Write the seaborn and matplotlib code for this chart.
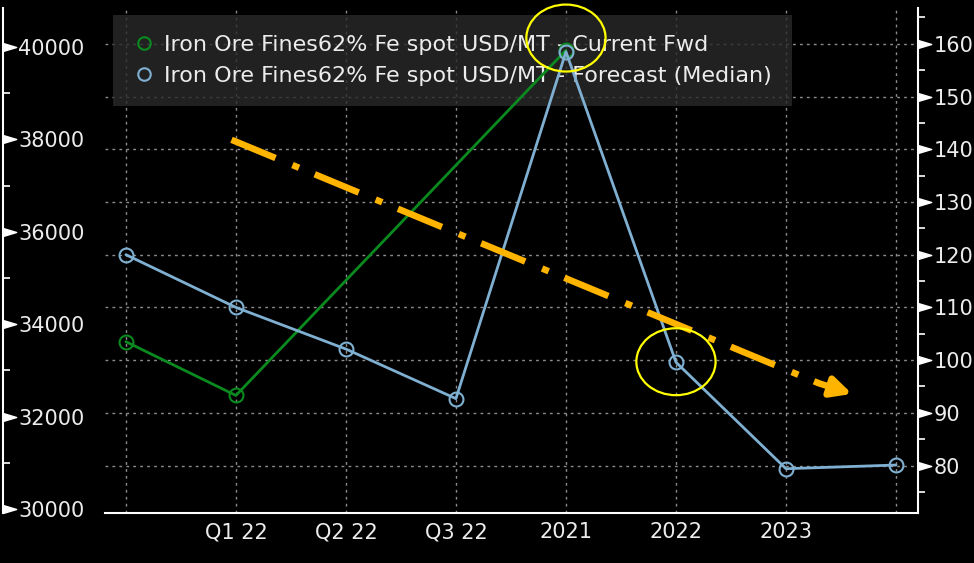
import matplotlib
matplotlib.use("Agg")
import matplotlib.pyplot as plt
import seaborn as sns
import pandas as pd
from matplotlib.path import Path
from matplotlib.patches import Ellipse
from matplotlib.lines import Line2D

# 資料
periods = ["", "Q1 22", "Q2 22", "Q3 22", "2021", "2022", "2023", ""]
current_fwd = [103.5, 93.3, None, None, 158.8, None, None, None]
forecast_median = [120.0, 110.0, 102.1, 92.7, 158.5, 99.6, 79.4, 80.1]
left_ticks = [30000, 32000, 34000, 36000, 38000, 40000]
right_ticks = [80, 90, 100, 110, 120, 130, 140, 150, 160]
series_names = ["Iron Ore Fines62% Fe spot USD/MT - Current Fwd",
                "Iron Ore Fines62% Fe spot USD/MT - Forecast (Median)"]

GREEN = "#0a8a1f"
BLUE = "#7fb0d2"
ORANGE = "#ffb400"
TXT = "#ececec"
GRID = "#8c8c8c"

sns.set_style("dark", {"axes.facecolor": "black", "figure.facecolor": "black"})
plt.rcParams["font.family"] = ["DejaVu Sans"]
plt.rcParams["font.size"] = 15

df = pd.DataFrame({"pos": range(len(periods)), "period": periods,
                   "fwd": current_fwd, "median": forecast_median})

fig = plt.figure(figsize=(9.74, 5.63), dpi=100)
ax = fig.add_axes([105 / 974, 50 / 563, 813 / 974, 505 / 563])
ax.set_facecolor("black")
ax_l = ax.twinx()

line_kw = dict(marker="o", markersize=10, markerfacecolor="none",
               markeredgewidth=1.5, linewidth=2)
sns.lineplot(data=df.dropna(subset=["fwd"]), x="pos", y="fwd", ax=ax,
             color=GREEN, markeredgecolor=GREEN, **line_kw)
sns.lineplot(data=df, x="pos", y="median", ax=ax,
             color=BLUE, markeredgecolor=BLUE, **line_kw)

ax.set_xlim(-0.19, 7.2)
ax.set_ylim(71.0, 166.8)
ax.set_xticks(df["pos"])
ax.set_xticklabels(periods, color=TXT)
ax.set_xlabel("")
ax.set_ylabel("")
ax.grid(True, color=GRID, linestyle=(0, (2, 3)), linewidth=1)

# 右軸 (三角形刻度)
tri = Path([(0, -0.3), (1, 0), (0, 0.3), (0, -0.3)],
           [Path.MOVETO, Path.LINETO, Path.LINETO, Path.CLOSEPOLY])
ax.yaxis.tick_right()
ax.set_yticks(right_ticks)
ax.set_yticks([75, 85, 95, 105, 115, 125, 135, 145, 155, 165], minor=True)
ax.tick_params(axis="y", which="major", direction="out", length=10, width=1,
               colors="white", labelcolor=TXT, pad=1.5)
ax.tick_params(axis="y", which="minor", direction="out", length=5, width=1.2,
               colors="white")
for t in ax.yaxis.get_major_ticks():
    t.tick2line.set_marker(tri)
    t.tick2line.set_markersize(19)
    t.tick2line.set_markerfacecolor("white")
ax.tick_params(axis="x", direction="out", length=4.5, width=1.2, colors="white",
               labelcolor=TXT, pad=2)
for s in ["top", "left"]:
    ax.spines[s].set_visible(False)
for s in ["bottom", "right"]:
    ax.spines[s].set_visible(True)
    ax.spines[s].set_color("white")
    ax.spines[s].set_linewidth(1.5)

# 左軸
ax_l.set_ylim(29913, 40844)
ax_l.yaxis.tick_left()
ax_l.spines["left"].set_position(("outward", 73.4))
ax_l.spines["left"].set_visible(True)
ax_l.spines["left"].set_color("white")
ax_l.spines["left"].set_linewidth(1.5)
for s in ["top", "right", "bottom"]:
    ax_l.spines[s].set_visible(False)
ax_l.set_yticks(left_ticks)
ax_l.set_yticks([31000, 33000, 35000, 37000, 39000], minor=True)
ax_l.tick_params(axis="y", which="major", direction="in", length=10, width=1,
                 colors="white", labelcolor=TXT, pad=-11)
ax_l.tick_params(axis="y", which="minor", direction="in", length=5, width=1.2,
                 colors="white")
for t in ax_l.yaxis.get_major_ticks():
    t.tick1line.set_marker(tri)
    t.tick1line.set_markersize(19)
    t.tick1line.set_markerfacecolor("white")
for lab in ax_l.get_yticklabels():
    lab.set_horizontalalignment("left")
ax_l.grid(False)

# 趨勢箭頭
ax.plot([0.96, 6.3], [141.8, 95.6], color=ORANGE, linewidth=4.7,
        dashes=[7.3, 2.8, 1.1, 2.6], solid_capstyle="butt", dash_capstyle="butt")
ax.annotate("", xy=(6.6, 93.6), xytext=(6.3, 95.6),
            arrowprops=dict(arrowstyle="-|>,head_length=0.8,head_width=0.4",
                            color=ORANGE, lw=4.7, shrinkA=0, shrinkB=0))

# 圈註
for cx, cy, h in [(4.0, 161.1, 12.7), (5.0, 99.7, 12.7)]:
    ax.add_patch(Ellipse((cx, cy), 0.72, h, fill=False, edgecolor="#ffff00",
                         linewidth=1.6, clip_on=False, zorder=5))

# 圖例
handles = [Line2D([], [], ls="none", marker="o", markersize=9, markerfacecolor="none",
                  markeredgecolor=c, markeredgewidth=1.5) for c in (GREEN, BLUE)]
leg = ax.legend(handles, series_names, loc="upper left", fontsize=16,
                bbox_to_anchor=(113 / 974, 548 / 563), bbox_transform=fig.transFigure,
                frameon=True, facecolor="#2a2a2a", edgecolor="none", framealpha=0.8,
                fancybox=False, labelcolor=TXT, handletextpad=0.4,
                handlelength=1.0, labelspacing=0.5, borderpad=0.9,
                borderaxespad=0)
leg.set_zorder(1)

fig.savefig("out.png", dpi=100, facecolor="black")
